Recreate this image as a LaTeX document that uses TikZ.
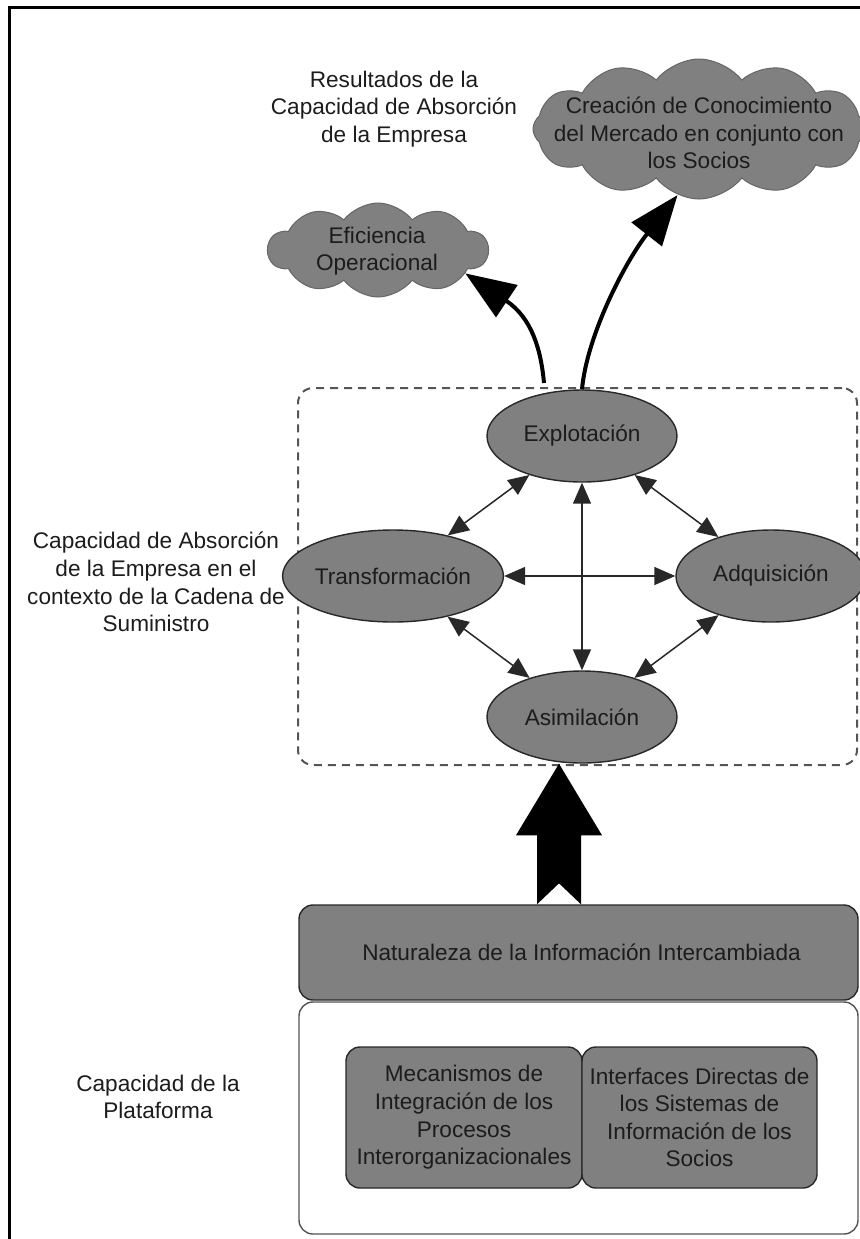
\documentclass[tikz,border=0pt]{standalone}
\usepackage{fontspec}
\setmainfont{Liberation Sans}
\usetikzlibrary{shapes.geometric,shapes.symbols,arrows.meta,calc}
\definecolor{shade}{RGB}{128,128,128}
\definecolor{rim}{RGB}{40,40,40}
\definecolor{ink}{RGB}{28,28,28}
\definecolor{dashgray}{RGB}{85,85,85}
\begin{document}
\begin{tikzpicture}[x=0.5pt,y=-0.5pt,
  every node/.style={font=\fontsize{11.3}{13.8}\selectfont, text=ink},
  caption/.style={align=center, inner sep=0pt},
  phase/.style={ellipse, draw=rim, line width=0.7pt, fill=shade,
    minimum width=95pt, minimum height=46pt, inner sep=0pt},
  puff/.style={cloud, cloud puff arc=105, cloud ignores aspect,
    fill=shade, draw=shade!80!black, line width=0.5pt, inner sep=0pt},
  panel/.style={rectangle, rounded corners=7pt, draw=rim, line width=0.7pt,
    fill=shade, inner sep=0pt, align=center},
  link/.style={{Triangle[length=10.5pt,width=9pt]}-{Triangle[length=10.5pt,width=9pt]},
    line width=0.75pt, draw=rim},
  outcome/.style={-{Triangle[length=25pt,width=19pt]}, line width=2pt, draw=black}]

\useasboundingbox (0,0) rectangle (859,1239);
% outer frame (only its top and left sides fall on the page)
\draw[line width=1.5pt] (9,1260) -- (9,7) -- (880,7);

% outcomes of the absorptive capacity
\node[caption] (res) at (394,109) {Resultados de la\\Capacidad de Absorción\\de la Empresa};
\node[puff, cloud puffs=12, minimum width=166pt, minimum height=70pt] (kmc) at (699,129) {};
\node[caption] (km) at (699,133) {Creación de Conocimiento\\del Mercado en conjunto con\\los Socios};
\node[puff, cloud puffs=10, minimum width=110pt, minimum height=47pt] (effc) at (378,250) {};
\node[caption] (eff) at (377,251) {Eficiencia\\Operacional};

% absorptive capacity in the supply chain
\node[draw=dashgray, line width=1pt, dash pattern=on 4pt off 3pt, rounded corners=7.5pt,
  minimum width=279.5pt, minimum height=188.5pt, inner sep=0pt] (acap) at (577.5,576.5) {};
\node[caption] (acapl) at (156,582) {Capacidad de Absorción\\de la Empresa en el\\contexto de la Cadena de\\Suministro};

\node[phase] (expl) at (582,436) {Explotación};
\node[phase] (trans) at (393,576) {Transformación};
\node[phase] (adq) at (771,576) {Adquisición};
\node[phase] (asim) at (582,717) {Asimilación};

\draw[link] (expl) -- (trans);
\draw[link] (expl) -- (adq);
\draw[link] (trans) -- (asim);
\draw[link] (adq) -- (asim);
\draw[link] (expl) -- (asim);
\draw[link] (trans) -- (adq);

% platform capability
\node[draw=rim!80, line width=0.7pt, rounded corners=7pt, minimum width=279.5pt,
  minimum height=116pt, inner sep=0pt] (plat) at (578.5,1118) {};
\node[panel, minimum width=279.5pt, minimum height=47.5pt] (nat) at (578.5,952.5)
  {\hspace*{3pt}Naturaleza de la Información Intercambiada};
\node[panel, minimum width=118pt, minimum height=70.5pt] (mec) at (464,1117.5)
  {Mecanismos de\\Integración de los\\Procesos\\Interorganizacionales};
\node[panel, minimum width=117.5pt, minimum height=70.5pt] (sis) at (699.5,1117.5)
  {Interfaces Directas de\\los Sistemas de\\Información de los\\Socios};
\node[caption] (platl) at (158,1097) {Capacidad de la\\Plataforma};

% wide block arrow from the exchanged information up to assimilation
\coordinate (feed) at ([xshift=-9.75pt]nat.north);
\coordinate (feedtip) at (feed |- asim.south);
\fill[black] ($(feed)+(-22,0)$) -- ($(feed)+(-22,-69)$) -- ($(feed)+(-43,-69)$)
  -- (feedtip) -- ($(feed)+(43,-69)$) -- ($(feed)+(22,-69)$) -- ($(feed)+(22,0)$)
  -- ($(feed)+(0,-21)$) -- cycle;

% curved arrows towards the outcomes
\coordinate (lift) at (544,383);
\draw[outcome] (lift) .. controls (541,350) and (532,318) .. (effc.-15);
\draw[outcome] (expl.north) .. controls (587,335) and (625,262) .. (kmc.-108);
\end{tikzpicture}
\end{document}
